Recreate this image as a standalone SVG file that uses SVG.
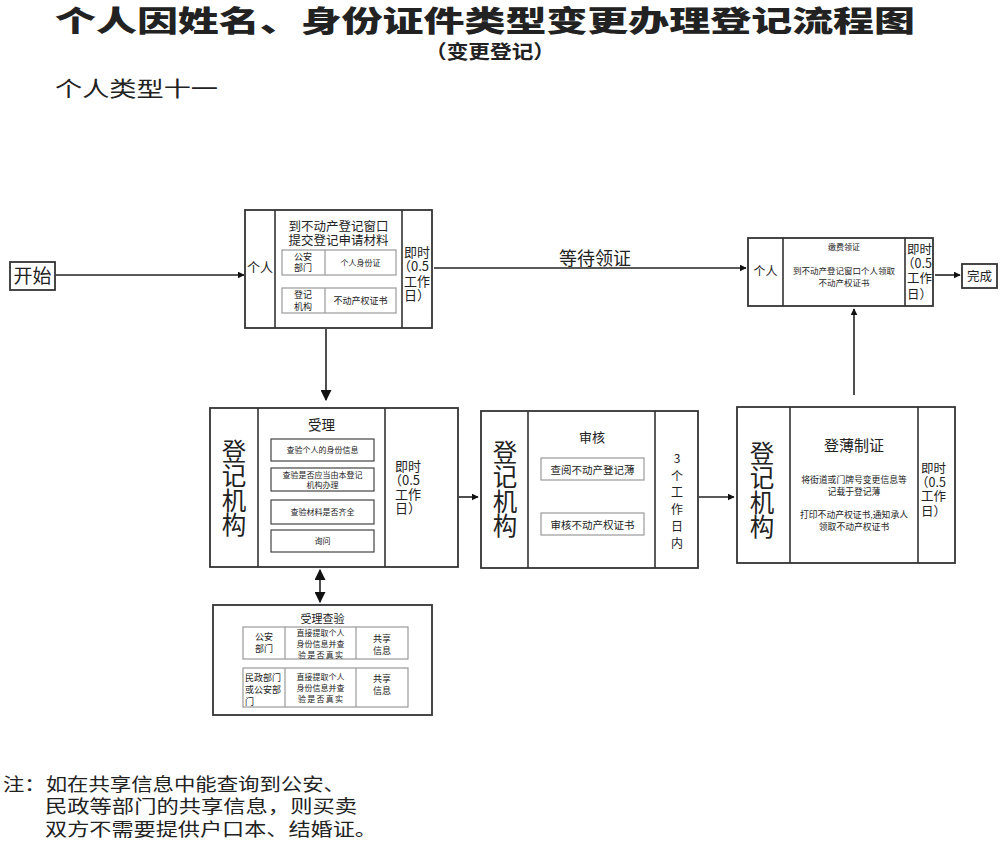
<svg xmlns="http://www.w3.org/2000/svg" width="1000" height="845" viewBox="0 0 1000 845">
<defs>
<style>
text{font-family:"Noto Sans CJK SC","Noto Sans",sans-serif;fill:#222}
.ob{fill:#fff;stroke:#333;stroke-width:1.8}
.ib{fill:#fff;stroke:#999;stroke-width:1.2}
.sb{fill:#fff;stroke:#444;stroke-width:1.2}
.ln{stroke:#333;stroke-width:1.6}
.c{text-anchor:middle}
.cn{stroke:#222;stroke-width:1.6;fill:none}
.vt{font-size:24.5px;writing-mode:vertical-rl;letter-spacing:0}
</style>
<marker id="ah" viewBox="0 0 10 10" refX="9" refY="5" markerWidth="7" markerHeight="7" orient="auto-start-reverse" markerUnits="userSpaceOnUse">
<path d="M0,0L10,5L0,10z" fill="#111"/>
</marker>
<marker id="ahb" viewBox="0 0 10 10" refX="9" refY="5" markerWidth="11" markerHeight="11" orient="auto-start-reverse" markerUnits="userSpaceOnUse">
<path d="M0,0L10,5L0,10z" fill="#111"/>
</marker>
</defs>
<rect width="1000" height="845" fill="#fff"/>

<g id="title">
<text x="55" y="32" font-size="29" font-weight="900" textLength="860" lengthAdjust="spacingAndGlyphs">个人因姓名、身份证件类型变更办理登记流程图</text>
<text x="425" y="59" font-size="19" font-weight="700" textLength="130" lengthAdjust="spacingAndGlyphs">（变更登记）</text>
<text x="55" y="96" font-size="21" textLength="163" lengthAdjust="spacingAndGlyphs">个人类型十一</text>
</g>

<g id="connectors">
<line class="cn" x1="56" y1="275" x2="244" y2="275" marker-end="url(#ah)"/>
<line class="cn" x1="434" y1="268" x2="746" y2="268" marker-end="url(#ah)"/>
<text x="595" y="265" class="c" font-size="18">等待领证</text>
<line class="cn" x1="935" y1="275" x2="960" y2="275" marker-end="url(#ah)"/>
<line class="cn" x1="326" y1="329" x2="326" y2="400" marker-end="url(#ahb)"/>
<line class="cn" x1="320" y1="570" x2="320" y2="602" marker-start="url(#ahb)" marker-end="url(#ahb)"/>
<line class="cn" x1="459" y1="497" x2="478" y2="497" marker-end="url(#ah)"/>
<line class="cn" x1="699" y1="497" x2="734" y2="497" marker-end="url(#ah)"/>
<line class="cn" x1="854" y1="395" x2="854" y2="309" marker-end="url(#ah)"/>
</g>

<g id="start">
<rect class="ob" x="10" y="262" width="45" height="28"/>
<text x="32.5" y="283" class="c" font-size="19">开始</text>
</g>

<g id="submit">
<rect class="ob" x="245" y="210" width="187" height="118"/>
<line class="ln" x1="275" y1="210" x2="275" y2="328"/>
<line class="ln" x1="402" y1="210" x2="402" y2="328"/>
<text x="260" y="272" class="c" font-size="13">个人</text>
<text x="338.5" y="231" class="c" font-size="12.5">到不动产登记窗口</text>
<text x="338.5" y="245" class="c" font-size="12.5">提交登记申请材料</text>
<rect class="ib" x="282" y="250" width="114" height="25"/>
<line class="ib" x1="325" y1="250" x2="325" y2="275"/>
<text x="303" y="260" class="c" font-size="9">公安</text>
<text x="303" y="271" class="c" font-size="9">部门</text>
<text x="360.5" y="266" class="c" font-size="8">个人身份证</text>
<rect class="ib" x="282" y="288" width="114" height="25"/>
<line class="ib" x1="325" y1="288" x2="325" y2="313"/>
<text x="303" y="298" class="c" font-size="9">登记</text>
<text x="303" y="310" class="c" font-size="9">机构</text>
<text x="360.5" y="304" class="c" font-size="9">不动产权证书</text>
<text font-size="13"><tspan x="404" y="257">即时</tspan><tspan x="398" y="271">（0.5</tspan><tspan x="404" y="286">工作</tspan><tspan x="404" y="300">日）</tspan></text>
</g>

<g id="collect">
<rect class="ob" x="748" y="238" width="185" height="68"/>
<line class="ln" x1="783" y1="238" x2="783" y2="306"/>
<line class="ln" x1="905" y1="238" x2="905" y2="306"/>
<text x="765.5" y="276" class="c" font-size="12">个人</text>
<text x="844" y="250" class="c" font-size="8">缴费领证</text>
<text x="844" y="274" class="c" font-size="8.5">到不动产登记窗口个人领取</text>
<text x="844" y="286" class="c" font-size="8.5">不动产权证书</text>
<text font-size="12.5"><tspan x="907" y="254">即时</tspan><tspan x="902" y="268">（0.5</tspan><tspan x="907" y="283">工作</tspan><tspan x="907" y="299">日）</tspan></text>
</g>

<g id="done">
<rect class="ob" x="962" y="264" width="35" height="24"/>
<text x="979.5" y="281" class="c" font-size="12.5">完成</text>
</g>

<g id="accept">
<rect class="ob" x="210" y="408" width="248" height="159"/>
<line class="ln" x1="258" y1="408" x2="258" y2="567"/>
<line class="ln" x1="385" y1="408" x2="385" y2="567"/>
<text class="vt" x="234" y="439">登记机构</text>
<text x="321.5" y="430" class="c" font-size="13.5">受理</text>
<rect class="sb" x="271" y="439" width="103" height="22"/>
<text x="322.5" y="453" class="c" font-size="8">查验个人的身份信息</text>
<rect class="sb" x="271" y="468" width="103" height="23"/>
<text x="322.5" y="478" class="c" font-size="8">查验是否应当由本登记</text>
<text x="322.5" y="488" class="c" font-size="8">机构办理</text>
<rect class="sb" x="271" y="500" width="103" height="24"/>
<text x="322.5" y="515" class="c" font-size="8">查验材料是否齐全</text>
<rect class="sb" x="271" y="530" width="103" height="22"/>
<text x="322.5" y="544" class="c" font-size="8">询问</text>
<text font-size="13"><tspan x="395" y="471">即时</tspan><tspan x="389" y="485">（0.5</tspan><tspan x="395" y="499">工作</tspan><tspan x="395" y="513">日）</tspan></text>
</g>

<g id="check">
<rect class="ob" x="213" y="605" width="219" height="110"/>
<text x="322.5" y="623" class="c" font-size="11">受理查验</text>
<rect class="ib" x="243" y="627" width="165" height="32"/>
<line class="ib" x1="285" y1="627" x2="285" y2="659"/>
<line class="ib" x1="356" y1="627" x2="356" y2="659"/>
<text x="264" y="640" class="c" font-size="9">公安</text>
<text x="264" y="652" class="c" font-size="9">部门</text>
<text x="320.5" y="636" class="c" font-size="8">直接提取个人</text>
<text x="320.5" y="647" class="c" font-size="8">身份信息并查</text>
<text x="298" y="658" font-size="8" textLength="45" lengthAdjust="spacing">验是否真实</text>
<text x="382" y="642" class="c" font-size="9">共享</text>
<text x="382" y="654" class="c" font-size="9">信息</text>
<rect class="ib" x="243" y="668" width="165" height="39"/>
<line class="ib" x1="285" y1="668" x2="285" y2="707"/>
<line class="ib" x1="356" y1="668" x2="356" y2="707"/>
<text x="245" y="681" font-size="9">民政部门</text>
<text x="245" y="693" font-size="9">或公安部</text>
<text x="245" y="705" font-size="9">门</text>
<text x="320.5" y="680" class="c" font-size="8">直接提取个人</text>
<text x="320.5" y="691" class="c" font-size="8">身份信息并查</text>
<text x="298" y="702" font-size="8" textLength="45" lengthAdjust="spacing">验是否真实</text>
<text x="382" y="682" class="c" font-size="9">共享</text>
<text x="382" y="694" class="c" font-size="9">信息</text>
</g>

<g id="review">
<rect class="ob" x="481" y="411" width="217" height="157"/>
<line class="ln" x1="528" y1="411" x2="528" y2="568"/>
<line class="ln" x1="655" y1="411" x2="655" y2="568"/>
<text class="vt" x="505" y="440">登记机构</text>
<text x="592" y="442" class="c" font-size="13">审核</text>
<rect class="ib" x="541" y="458" width="103" height="22"/>
<text x="592.5" y="474" class="c" font-size="10.5">查阅不动产登记薄</text>
<rect class="ib" x="541" y="513" width="103" height="22"/>
<text x="592.5" y="529" class="c" font-size="10.5">审核不动产权证书</text>
<text class="c" font-size="12"><tspan x="677" y="463">3</tspan><tspan x="677" y="481">个</tspan><tspan x="677" y="497">工</tspan><tspan x="677" y="514">作</tspan><tspan x="677" y="531">日</tspan><tspan x="677" y="548">内</tspan></text>
</g>

<g id="register">
<rect class="ob" x="737" y="407" width="218" height="156"/>
<line class="ln" x1="790" y1="407" x2="790" y2="563"/>
<line class="ln" x1="918" y1="407" x2="918" y2="563"/>
<text class="vt" x="762" y="441">登记机构</text>
<text x="854" y="451" class="c" font-size="15">登薄制证</text>
<text x="854" y="483" class="c" font-size="8.8">将街道或门牌号变更信息等</text>
<text x="854" y="495" class="c" font-size="8.8">记载于登记薄</text>
<text x="854" y="518" class="c" font-size="8.8">打印不动产权证书,通知承人</text>
<text x="854" y="530" class="c" font-size="8.8">领取不动产权证书</text>
<text font-size="12.5"><tspan x="921" y="473">即时</tspan><tspan x="916" y="487">（0.5</tspan><tspan x="921" y="501">工作</tspan><tspan x="921" y="516">日）</tspan></text>
</g>

<g id="note">
<text x="3" y="791" font-size="18" textLength="342" lengthAdjust="spacingAndGlyphs">注：如在共享信息中能查询到公安、</text>
<text x="45" y="813" font-size="18" textLength="312" lengthAdjust="spacingAndGlyphs">民政等部门的共享信息，则买卖</text>
<text x="45" y="836" font-size="18" textLength="332" lengthAdjust="spacingAndGlyphs">双方不需要提供户口本、结婚证。</text>
</g>
</svg>
